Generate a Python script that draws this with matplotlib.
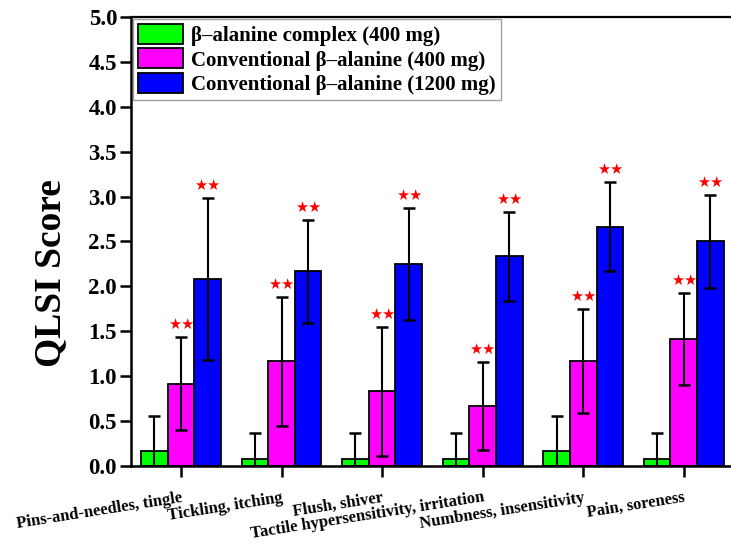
import numpy as np
import matplotlib
matplotlib.use("Agg")
import matplotlib.pyplot as plt

categories = ["Pins-and-needles, tingle", "Tickling, itching", "Flush, shiver",
              "Tactile hypersensitivity, irritation", "Numbness, insensitivity",
              "Pain, soreness"]
series_names = ["\u03b2\u2013alanine complex (400 mg)",
                "Conventional \u03b2\u2013alanine (400 mg)",
                "Conventional \u03b2\u2013alanine (1200 mg)"]
complex_mean = [0.167, 0.083, 0.083, 0.083, 0.167, 0.083]
complex_sd = [0.389, 0.289, 0.289, 0.289, 0.389, 0.289]
conv400_mean = [0.917, 1.167, 0.833, 0.667, 1.167, 1.417]
conv400_sd = [0.515, 0.718, 0.718, 0.492, 0.577, 0.515]
conv1200_mean = [2.083, 2.167, 2.25, 2.333, 2.667, 2.5]
conv1200_sd = [0.90, 0.577, 0.622, 0.492, 0.492, 0.522]
significant = [False, True, True]

plt.rcParams["font.family"] = ["Liberation Serif", "DejaVu Sans"]
plt.rcParams["font.weight"] = "bold"

fig = plt.figure(figsize=(7.31, 5.52), dpi=100)
ax = fig.add_axes([0.1792, 0.1558, 0.8208, 0.8134])

x = np.arange(len(categories))
width = 0.265
offsets = [-0.265, 0.0, 0.265]
colors = ["#00ff00", "#ff00ff", "#0000ff"]
means = [complex_mean, conv400_mean, conv1200_mean]
sds = [complex_sd, conv400_sd, conv1200_sd]

for i in range(3):
    ax.bar(x + offsets[i], means[i], width, color=colors[i], edgecolor="black",
           linewidth=1.3, label=series_names[i], zorder=2)
    ax.errorbar(x + offsets[i], means[i], yerr=sds[i], fmt="none", ecolor="black",
                elinewidth=1.5, capsize=4.5, capthick=1.8, zorder=3)
    if significant[i]:
        for xi, m, s in zip(x + offsets[i], means[i], sds[i]):
            ax.annotate("\u2605\u2605", xy=(xi, m + s), xytext=(0, 9),
                        textcoords="offset points", ha="center", va="center",
                        color="red", fontsize=10.5, family="DejaVu Sans")

ax.set_xlim(-0.497, 5.47)
ax.set_ylim(0, 5.0)
ax.set_yticks(np.arange(0, 5.01, 0.5))
ax.set_yticklabels([f"{v:.1f}" for v in np.arange(0, 5.01, 0.5)], fontsize=16.5,
                   fontweight="bold")
ax.set_xticks(x)
ax.set_xticklabels(categories, rotation=9, ha="right", rotation_mode="anchor",
                   fontsize=12, fontweight="bold")
for lab in ax.get_xticklabels():
    lab.set_verticalalignment("top")

ax.tick_params(axis="y", direction="out", length=8, width=1.8, pad=2)
ax.tick_params(axis="x", direction="out", length=8, width=1.8, pad=9)
for side in ["left", "bottom"]:
    ax.spines[side].set_linewidth(1.8)
ax.spines["top"].set_linewidth(1.6)
ax.spines["right"].set_visible(False)

ax.set_ylabel("QLSI Score", fontsize=27, fontweight="bold")
ax.yaxis.set_label_coords(-0.105, 0.43)

leg = ax.legend(loc="upper left", fontsize=15, frameon=True, fancybox=False,
                borderaxespad=0.1, handlelength=2.15, handleheight=1.1,
                labelspacing=0.1, handletextpad=0.4, borderpad=0.25)
leg.get_frame().set_edgecolor("#888888")
leg.get_frame().set_linewidth(1.0)
for t in leg.get_texts():
    t.set_fontweight("bold")

fig.savefig("out.png", dpi=100)
